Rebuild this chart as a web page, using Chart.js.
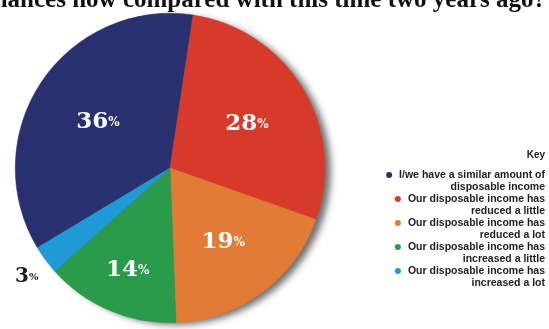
<!DOCTYPE html>
<html>
<head>
<meta charset="utf-8">
<script src="https://cdn.jsdelivr.net/npm/chart.js@4.4.1/dist/chart.umd.min.js"></script>
<style>
html,body{margin:0;padding:0;background:#fff;}
#wrap{position:relative;width:549px;height:329px;}
</style>
</head>
<body>
<div id="wrap"><canvas id="c" width="549" height="329"></canvas></div>
<script>
const titleText = "finances now compared with this time two years ago?";
const categories = [
  ["I/we have a similar amount of", "disposable income"],
  ["Our disposable income has", "reduced a little"],
  ["Our disposable income has", "reduced a lot"],
  ["Our disposable income has", "increased a little"],
  ["Our disposable income has", "increased a lot"]
];
const values = [36, 28, 19, 14, 3];
const colors = ["#29306f", "#d7392b", "#e27b35", "#2a9a4b", "#1f9ad6"];
const legendTitle = "Key";

const labelRadius = [0.56, 0.58, 0.58, 0.70, 1.15];

const shadowPlugin = {
  id: 'shadow',
  beforeDatasetsDraw(chart) {
    const arc = chart.getDatasetMeta(0).data[0];
    if (!arc) return;
    const ctx = chart.ctx;
    ctx.save();
    ctx.shadowColor = 'rgba(60,60,60,0.75)';
    ctx.shadowBlur = 7;
    ctx.shadowOffsetX = 7;
    ctx.shadowOffsetY = 3;
    ctx.fillStyle = '#6e6e6e';
    ctx.beginPath();
    ctx.arc(arc.x, arc.y, arc.outerRadius - 1, 0, Math.PI * 2);
    ctx.fill();
    ctx.restore();
  }
};

const labelPlugin = {
  id: 'pctLabels',
  afterDatasetsDraw(chart) {
    const ctx = chart.ctx;
    const meta = chart.getDatasetMeta(0);
    meta.data.forEach((arc, i) => {
      const mid = (arc.startAngle + arc.endAngle) / 2;
      const r = arc.outerRadius * labelRadius[i];
      const x = arc.x + Math.cos(mid) * r;
      const y = arc.y + Math.sin(mid) * r;
      const num = String(values[i]);
      ctx.save();
      ctx.fillStyle = labelRadius[i] > 1 ? '#1a1a1a' : '#ffffff';
      ctx.textBaseline = 'alphabetic';
      const big = (values[i] < 5 ? 'bold 20px' : 'bold 23px') + " 'DejaVu Serif'";
      const small = (values[i] < 5 ? 'bold 10px' : 'bold 12px') + " 'DejaVu Serif'";
      ctx.font = big;
      const w1 = ctx.measureText(num).width;
      ctx.font = small;
      const w2 = ctx.measureText('%').width;
      const x0 = x - (w1 + w2) / 2;
      const base = y + 8;
      ctx.font = big;
      ctx.fillText(num, x0, base);
      ctx.font = small;
      ctx.fillText('%', x0 + w1, base - 2);
      ctx.restore();
    });
  }
};

const textPlugin = {
  id: 'texts',
  afterDraw(chart) {
    const ctx = chart.ctx;
    ctx.save();
    ctx.fillStyle = '#111';
    ctx.font = "bold 25px 'Liberation Serif'";
    ctx.textAlign = 'right';
    ctx.textBaseline = 'alphabetic';
    ctx.fillText(titleText, 546, 7);
    const right = 545;
    ctx.fillStyle = '#222';
    ctx.textBaseline = 'middle';
    ctx.font = "bold 10px 'Liberation Sans'";
    ctx.fillText(legendTitle, right, 155);
    ctx.font = "bold 10.5px 'Liberation Sans'";
    let y = 175;
    categories.forEach((lines, i) => {
      lines.forEach((ln, j) => {
        ctx.fillStyle = '#222';
        ctx.textAlign = 'right';
        ctx.fillText(ln, right, y + j * 12);
        if (j === 0) {
          const w = ctx.measureText(ln).width;
          ctx.fillStyle = colors[i];
          ctx.beginPath();
          ctx.arc(right - w - 10, y, 3, 0, Math.PI * 2);
          ctx.fill();
        }
      });
      y += 24;
    });
    ctx.restore();
  }
};

new Chart(document.getElementById('c'), {
  type: 'pie',
  data: {
    labels: categories.map(l => l.join(' ')),
    datasets: [{
      data: values,
      backgroundColor: colors,
      borderColor: colors,
      borderWidth: 0.5
    }]
  },
  options: {
    responsive: false,
    animation: false,
    rotation: -121,
    layout: { padding: { left: 15, right: 224, top: 13, bottom: 6 } },
    plugins: {
      legend: { display: false },
      tooltip: { enabled: false }
    }
  },
  plugins: [shadowPlugin, labelPlugin, textPlugin]
});
</script>
</body>
</html>
